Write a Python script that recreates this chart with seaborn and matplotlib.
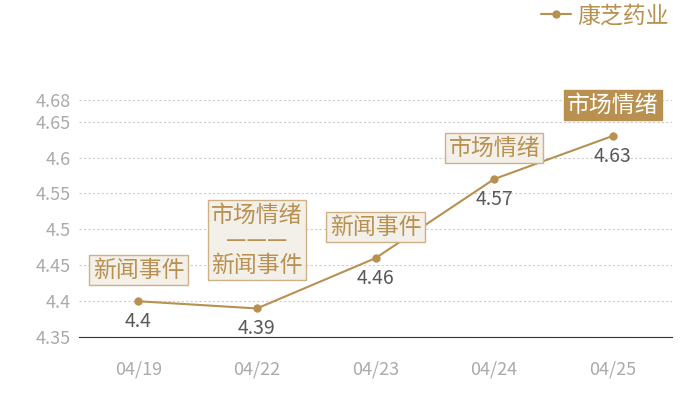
import numpy as np
import pandas as pd
import seaborn as sns
import matplotlib.pyplot as plt

dates = ['04/19', '04/22', '04/23', '04/24', '04/25']
prices = [4.4, 4.39, 4.46, 4.57, 4.63]
events = ['新闻事件', '市场情绪\n———\n新闻事件', '新闻事件', '市场情绪', '市场情绪']
yticks = [4.35, 4.4, 4.45, 4.5, 4.55, 4.6, 4.65, 4.68]

gold = '#b8904f'

sns.set_style('white')
plt.rcParams['font.family'] = ['Noto Sans CJK SC', 'DejaVu Sans']

df = pd.DataFrame({'date': dates, 'price': prices})

fig = plt.figure(figsize=(7, 4), dpi=100)
ax = fig.add_axes([0.113, 0.157, 0.847, 0.593])

sns.lineplot(data=df, x='date', y='price', ax=ax, color=gold, marker='o',
             markersize=6, markeredgewidth=0, linewidth=1.5, label='康芝药业')

ax.set_xlim(-0.5, 4.5)
ax.set_ylim(4.35, 4.68)
ax.set_yticks(yticks)
ax.set_yticklabels([f'{v:g}' for v in yticks])
ax.set_xlabel('')
ax.set_ylabel('')
ax.grid(axis='y', linestyle=(0, (2, 2)), color='#cccccc', linewidth=0.8)
for s in ['top', 'right', 'left']:
    ax.spines[s].set_visible(False)
ax.spines['bottom'].set_color('#333333')
ax.tick_params(axis='y', length=0, labelsize=13, labelcolor='#aaaaaa', pad=6)
ax.tick_params(axis='x', length=0, labelsize=13, labelcolor='#aaaaaa', pad=17)

# value labels under points
for i, v in enumerate(prices):
    ax.annotate(f'{v:g}', (i, v), xytext=(0, -7), textcoords='offset points',
                ha='center', va='top', fontsize=14, color='#595959')

# event boxes above points
for i, (v, e) in enumerate(zip(prices, events)):
    last = i == len(prices) - 1
    multi = '\n' in e
    ax.annotate(e, (i, v), xytext=(0, 23 if multi else 14), textcoords='offset points',
                ha='center', va='bottom', fontsize=16.5, linespacing=1.1,
                color='white' if last else gold,
                bbox=dict(boxstyle='square,pad=0.15',
                          fc=gold if last else '#f3efe9',
                          ec=gold if last else '#cfb186', lw=1))

leg = ax.legend(loc='upper right', bbox_to_anchor=(1.03, 1.49), frameon=False,
                fontsize=16.5, handlelength=1.3, handletextpad=0.3)
for t in leg.get_texts():
    t.set_color(gold)

fig.savefig('out.png', dpi=100)
